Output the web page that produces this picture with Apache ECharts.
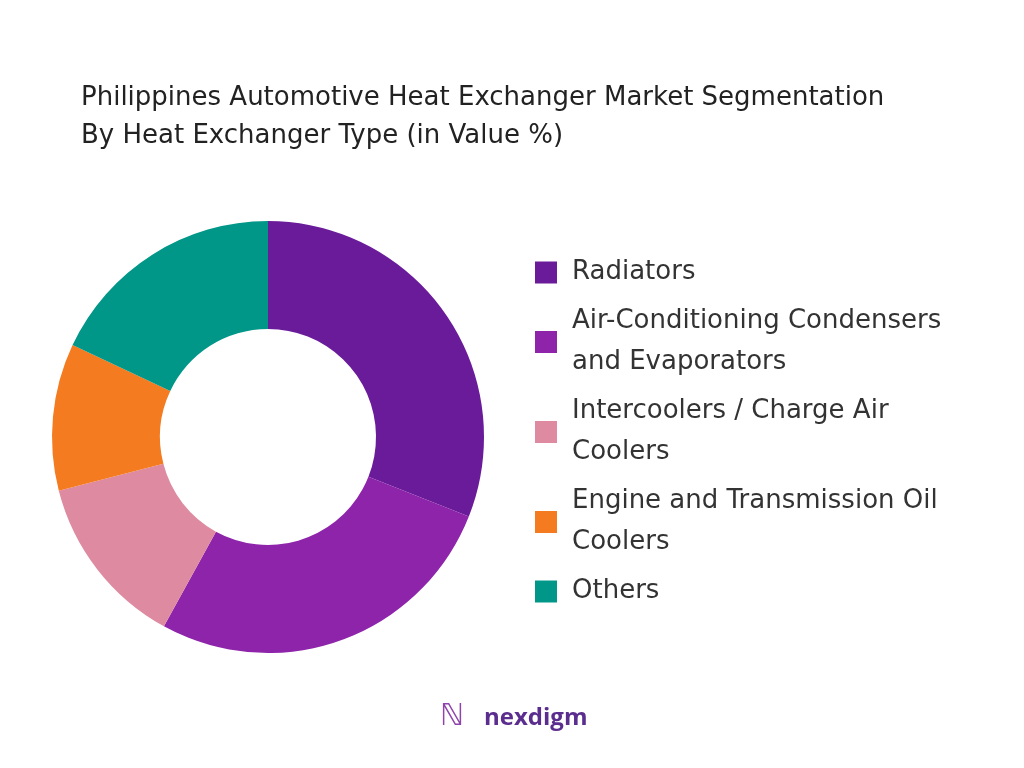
<!DOCTYPE html>
<html>
<head>
<meta charset="utf-8">
<script src="https://cdn.jsdelivr.net/npm/echarts@6/dist/echarts.min.js"></script>
<style>html,body{margin:0;padding:0;background:#fff}#chart{width:1024px;height:768px}</style>
</head>
<body>
<div id="chart"></div>
<script>
var segments = ['Radiators', 'Air-Conditioning Condensers\nand Evaporators', 'Intercoolers / Charge Air\nCoolers', 'Engine and Transmission Oil\nCoolers', 'Others'];
var shares = [31, 27, 13, 11, 18];
var colors = ['#6a1b9a', '#8e24aa', '#de8aa0', '#f47b20', '#009688'];

var chart = echarts.init(document.getElementById('chart'));
var pieData = [];
for (var i = 0; i < segments.length; i++) {
    pieData.push({ name: segments[i], value: shares[i], itemStyle: { color: colors[i] } });
}
chart.setOption({
    backgroundColor: '#fff',
    title: {
        text: 'Philippines Automotive Heat Exchanger Market Segmentation\nBy Heat Exchanger Type (in Value %)',
        left: 76, top: 74,
        textStyle: { fontFamily: 'DejaVu Sans', fontSize: 26, fontWeight: 'normal', color: '#222', lineHeight: 38, letterSpacing: 2 }
    },
    legend: {
        orient: 'vertical', left: 530, top: 247,
        icon: 'rect', itemWidth: 22, itemHeight: 22, itemGap: 8,
        textStyle: { fontFamily: 'DejaVu Sans', fontSize: 26, color: '#333', lineHeight: 41, letterSpacing: 1.3, padding: [0, 0, 0, 10] },
        selectedMode: false
    },
    graphic: [{
        type: 'text', left: 484, top: 706,
        style: { text: 'nexdigm', font: 'bold 24px "Open Sans"', fill: '#5b2d8e' }
    }, {
        type: 'text', left: 440, top: 702,
        style: { text: 'ℕ', font: '30px "DejaVu Sans"', fill: '#8e44ad' }
    }],
    series: [{
        type: 'pie',
        radius: [108, 216],
        center: [268, 437],
        startAngle: 90,
        label: { show: false },
        labelLine: { show: false },
        silent: true,
        data: pieData
    }]
});
</script>
</body>
</html>
